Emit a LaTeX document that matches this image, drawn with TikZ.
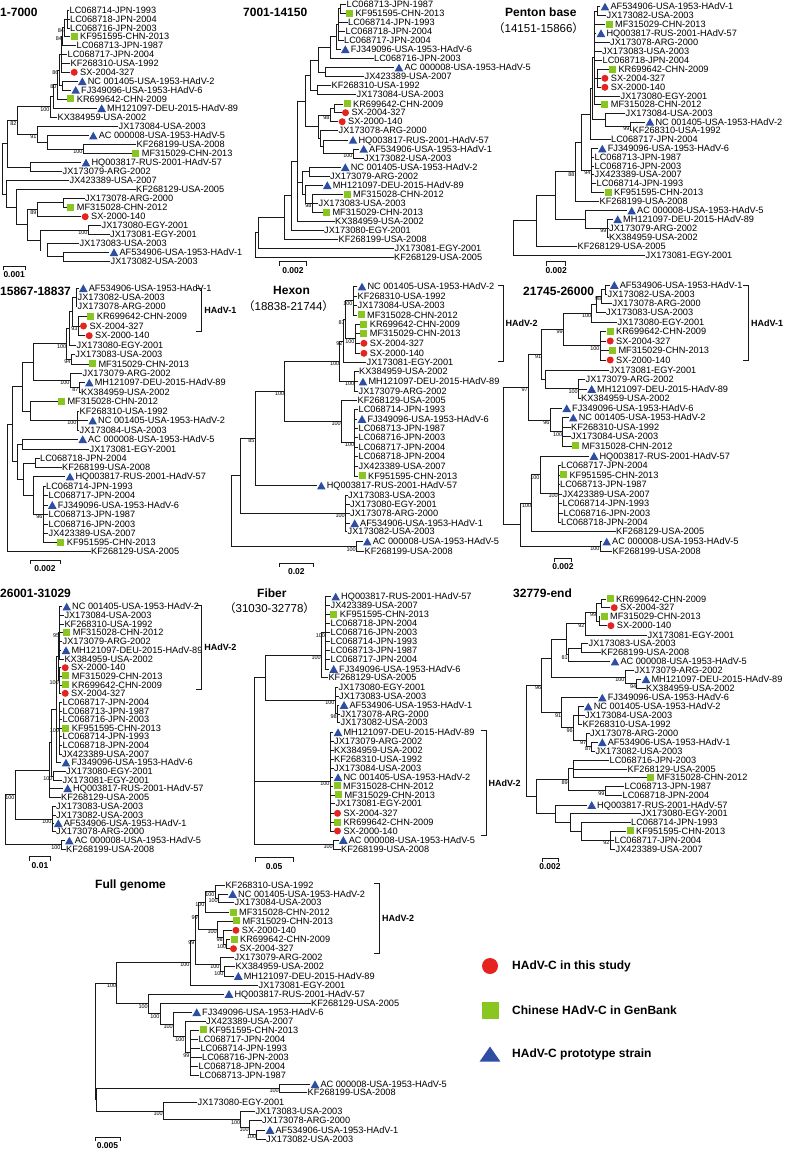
\documentclass[tikz,border=0pt]{standalone}
\usepackage{fontspec}
\setmainfont{Liberation Sans}
\newfontfamily\cjk{Noto Sans CJK SC}
\usetikzlibrary{calc}
\definecolor{hred}{RGB}{228,36,30}
\definecolor{hgreen}{RGB}{138,198,32}
\definecolor{hblue}{RGB}{46,78,164}
\newcommand{\mkc}{\tikz[baseline=0pt]\fill[hred] (3.5pt,3.25pt) circle (3.5pt);\hspace{2.5pt}}
\newcommand{\mks}{\tikz[baseline=0pt]\fill[hgreen] (0pt,-0.2pt) rectangle (7pt,6.8pt);\hspace{2.5pt}}
\newcommand{\mkt}{\tikz[baseline=0pt]\fill[hblue] (0pt,-0.5pt) -- (8.6pt,-0.5pt) -- (4.3pt,7.2pt) -- cycle;\hspace{1.2pt}}
\newcommand{\lf}[4]{\node[leaf] (#1) at (#2,#3) {#4};}
\newcommand{\cl}[5][]{%
  \coordinate (#2x) at (#3,0);
  \coordinate (#2t) at (#4 -| #2x);
  \coordinate (#2b) at (#5 -| #2x);
  \coordinate (#2) at ($(#2t)!.5!(#2b)$);
  \draw[br] (#2t) -- (#2b);
  \draw[br] (#2t) -- (#4);
  \draw[br] (#2b) -- (#5);
  \ifx\relax#1\relax\else\node[bs] (#2l) at (#2) {#1};\fi}
\newcommand{\cm}[2]{\foreach \ch in {#2}{\draw[br] (\ch -| #1x) -- (\ch);}}
\newcommand{\sbar}[5]{%
  \draw[br, line width=0.8pt] (#2,#4+3.5) -- (#2,#4) -- (#3,#4) -- (#3,#4+3.5);
  \node[sbl] (#1) at ({(#2+#3)/2},#4+8.5) {#5};}
\newcommand{\grp}[5]{%
  \draw[br] ({#2-5},#3) -- (#2,#3) -- (#2,#4) -- ({#2-5},#4);
  \node[glbl] (#1) at ({#2+2.5},{(#3+#4)/2}) {#5};}

\begin{document}
\begin{tikzpicture}[x=1pt,y=-1pt,
  br/.style={line width=0.95pt, line cap=rect, draw=black!90},
  leaf/.style={anchor=west, inner sep=0.5pt, text height=6.5pt, text depth=0pt, font=\fontsize{9.2}{9.2}\selectfont},
  bs/.style={anchor=north east, inner sep=0.3pt, font=\fontsize{5.5}{5.5}\selectfont},
  ttl/.style={anchor=west, inner sep=0pt, font=\bfseries\fontsize{12}{12}\selectfont},
  sub/.style={anchor=west, inner sep=0pt, font=\fontsize{11.5}{11.5}\selectfont},
  sbl/.style={inner sep=0pt, font=\bfseries\fontsize{8.5}{8.5}\selectfont},
  glbl/.style={anchor=west, inner sep=0pt, font=\bfseries\fontsize{9}{9}\selectfont},
  lgtxt/.style={anchor=west, inner sep=0pt, font=\bfseries\fontsize{12}{12}\selectfont}]
\useasboundingbox (0,0) rectangle (784,1150);

% titles
\node[ttl] (t1) at (0,12) {1-7000};
\node[ttl] (t2) at (243,12) {7001-14150};
\node[ttl] (t3) at (505,12) {Penton base};
\node[sub] (t3s) at (493,28) {{\cjk （}14151-15866{\cjk ）}};
\node[ttl] (t4) at (0,291.7) {15867-18837};
\node[ttl] (t5) at (273,290.7) {Hexon};
\node[sub] (t5s) at (243,306) {{\cjk （}18838-21744{\cjk ）}};
\node[ttl] (t6) at (523,291.7) {21745-26000};
\node[ttl] (t7) at (0,593.3) {26001-31029};
\node[ttl] (t8) at (257,593.3) {Fiber};
\node[sub] (t8s) at (224,608.3) {{\cjk （}31030-32778{\cjk ）}};
\node[ttl] (t9) at (513,593.3) {32779-end};
\node[ttl] (t10) at (95,885.7) {Full genome};

% 1-7000
\lf{a1}{69}{10}{LC068714-JPN-1993}
\lf{a2}{69.5}{19}{LC068718-JPN-2004}
\lf{a3}{69.5}{28}{LC068716-JPN-2003}
\lf{a4}{70}{36.7}{\mks KF951595-CHN-2013}
\lf{a5}{76}{45.3}{LC068713-JPN-1987}
\lf{a6}{67}{54.3}{LC068717-JPN-2004}
\lf{a7}{70}{63.3}{KF268310-USA-1992}
\lf{a8}{70}{72.3}{\mkc SX-2004-327}
\lf{a9}{77.3}{81.3}{\mkt NC 001405-USA-1953-HAdV-2}
\lf{a10}{70.7}{90}{\mkt FJ349096-USA-1953-HAdV-6}
\lf{a11}{66.7}{99}{\mks KR699642-CHN-2009}
\lf{a12}{96.7}{108.3}{\mkt MH121097-DEU-2015-HAdV-89}
\lf{a13}{57}{117.3}{KX384959-USA-2002}
\lf{a14}{118}{126.7}{JX173084-USA-2003}
\lf{a15}{88.3}{135.7}{\mkt AC 000008-USA-1953-HAdV-5}
\lf{a16}{136}{144.3}{KF268199-USA-2008}
\lf{a17}{131.7}{153.7}{\mks MF315029-CHN-2013}
\lf{a18}{81}{162.7}{\mkt HQ003817-RUS-2001-HAdV-57}
\lf{a19}{62}{171.7}{JX173079-ARG-2002}
\lf{a20}{69}{180.7}{JX423389-USA-2007}
\lf{a21}{135.5}{189.7}{KF268129-USA-2005}
\lf{a22}{84.5}{198.3}{JX173078-ARG-2000}
\lf{a23}{66.7}{207.3}{\mks MF315028-CHN-2012}
\lf{a24}{81}{216.7}{\mkc SX-2000-140}
\lf{a25}{101}{225.7}{JX173080-EGY-2001}
\lf{a26}{109.5}{234.3}{JX173081-EGY-2001}
\lf{a27}{79}{243.3}{JX173083-USA-2003}
\lf{a28}{109}{252.3}{\mkt AF534906-USA-1953-HAdV-1}
\lf{a29}{110}{261.3}{JX173082-USA-2003}
\cl{aA8}{67}{a1}{a3} \cm{aA8}{a2}
\cl[84]{aA7}{64.5}{aA8}{a4}
\cl[84]{aA6}{62.5}{aA7}{a5}
\cl{aA4}{61}{aA6}{a8} \cm{aA4}{a6,a7}
\cl{aA5}{62}{a9}{a10}
\cl[86]{aA3}{59}{aA4}{aA5}
\cl[80]{aA2}{57}{aA3}{a11}
\cl{aA1}{53}{aA2}{a12}
\cl[100]{aA0}{50}{aA1}{a13}
\cl[100]{aB2}{83}{a16}{a17}
\cl{aB1}{47}{a15}{aB2}
\cl[91]{aB0}{37}{a14}{aB1}
\cl[82]{aN}{17}{aA0}{aB0}
\cl{aH}{30}{a18}{a19}
\cl{aU}{7.3}{aN}{aH}
\cl{aL4a}{63}{a22}{a23}
\cl[89]{aL4}{37}{aL4a}{a24}
\cl[100]{aL5a}{88}{a25}{a26}
\cl{aL5c}{63}{a28}{a29}
\cl{aL5b}{47}{a27}{aL5c}
\cl{aL5}{40}{aL5a}{aL5b}
\cl{aL3}{27}{aL4}{aL5}
\cl{aL2}{16}{a21}{aL3}
\cl{aL}{6}{a20}{aL2}
\cl{aR}{2.7}{aU}{aL}
\sbar{sa}{3.3}{25}{266.5}{0.001}

% 7001-14150
\lf{b1}{346}{4}{LC068713-JPN-1987}
\lf{b2}{345.3}{13.3}{\mks KF951595-CHN-2013}
\lf{b3}{347.5}{22.3}{LC068714-JPN-1993}
\lf{b4}{345}{31.3}{LC068718-JPN-2004}
\lf{b5}{343.5}{40.3}{LC068717-JPN-2004}
\lf{b6}{340.3}{49.3}{\mkt FJ349096-USA-1953-HAdV-6}
\lf{b7}{373.5}{58.7}{LC068716-JPN-2003}
\lf{b8}{394}{67.7}{\mkt AC 000008-USA-1953-HAdV-5}
\lf{b9}{364}{76.7}{JX423389-USA-2007}
\lf{b10}{331}{85.7}{KF268310-USA-1992}
\lf{b11}{356}{94.7}{JX173084-USA-2003}
\lf{b12}{343}{104}{\mks KR699642-CHN-2009}
\lf{b13}{341.3}{112.7}{\mkc SX-2004-327}
\lf{b14}{338}{121.7}{\mkc SX-2000-140}
\lf{b15}{338}{130.7}{JX173078-ARG-2000}
\lf{b16}{348}{140}{\mkt HQ003817-RUS-2001-HAdV-57}
\lf{b17}{358.7}{149}{\mkt AF534906-USA-1953-HAdV-1}
\lf{b18}{363.5}{158}{JX173082-USA-2003}
\lf{b19}{340.3}{167.3}{\mkt NC 001405-USA-1953-HAdV-2}
\lf{b20}{329.5}{176}{JX173079-ARG-2002}
\lf{b21}{322.3}{185.3}{\mkt MH121097-DEU-2015-HAdV-89}
\lf{b22}{343}{194.3}{\mks MF315028-CHN-2012}
\lf{b23}{318}{203.3}{JX173083-USA-2003}
\lf{b24}{322.3}{212.3}{\mks MF315029-CHN-2013}
\lf{b25}{334.5}{221}{KX384959-USA-2002}
\lf{b26}{323.5}{230}{JX173080-EGY-2001}
\lf{b27}{338}{239.3}{KF268199-USA-2008}
\lf{b28}{394}{248.3}{JX173081-EGY-2001}
\lf{b29}{393.5}{257.3}{KF268129-USA-2005}
\cl{bR20}{340}{b1}{b2}
\cl{bR19}{338}{bR20}{b5} \cm{bR19}{b3,b4}
\cl{bR18}{336}{bR19}{b6}
\cl{bR16}{330}{bR18}{b7}
\cl{bR17}{325}{b8}{b9}
\cl{bR15}{318}{bR16}{bR17}
\cl{bR13}{317}{b10}{b11}
\cl{bR12}{310}{bR15}{bR13}
\cl{bR23}{334}{b12}{b13}
\cl[98]{bR21}{330}{bR23}{b14}
\cl[100]{bR25}{353}{b17}{b18}
\cl{bR24}{323}{b16}{bR25}
\cl{bR22}{320}{b15}{bR24}
\cl{bR14}{318}{bR21}{bR22}
\cl{bR5}{305}{bR12}{bR14}
\cl{bR8}{309.7}{b19}{b20}
\cl[98]{bR10}{312}{b22}{b24} \cm{bR10}{b23}
\cl{bR9}{305}{b21}{bR10}
\cl{bR7}{302}{bR8}{bR9}
\cl{bR4}{297}{bR5}{b25} \cm{bR4}{bR7}
\cl{bR3}{291.3}{bR4}{b26}
\cl{bR2}{284.7}{bR3}{b27}
\cl{bR1}{258}{bR2}{b28}
\cl{bR0}{255}{bR1}{b29}
\sbar{sb}{279.7}{306.3}{261.7}{0.002}

% Penton base
\lf{c1}{600}{6.7}{\mkt AF534906-USA-1953-HAdV-1}
\lf{c2}{606}{15.7}{JX173082-USA-2003}
\lf{c3}{605}{24.3}{\mks MF315029-CHN-2013}
\lf{c4}{596}{33.3}{\mkt HQ003817-RUS-2001-HAdV-57}
\lf{c5}{609.5}{42.3}{JX173078-ARG-2000}
\lf{c6}{601.5}{51.7}{JX173083-USA-2003}
\lf{c7}{602}{60.3}{LC068718-JPN-2004}
\lf{c8}{608.3}{69.3}{\mks KR699642-CHN-2009}
\lf{c9}{600.7}{78.3}{\mkc SX-2004-327}
\lf{c10}{600.7}{87.3}{\mkc SX-2000-140}
\lf{c11}{620}{96}{JX173080-EGY-2001}
\lf{c12}{600.7}{104.3}{\mks MF315028-CHN-2012}
\lf{c13}{625}{113.3}{JX173084-USA-2003}
\lf{c14}{645}{122}{\mkt NC 001405-USA-1953-HAdV-2}
\lf{c15}{632}{130.7}{KF268310-USA-1992}
\lf{c16}{610.5}{139.3}{LC068717-JPN-2004}
\lf{c17}{597.3}{148.7}{\mkt FJ349096-USA-1953-HAdV-6}
\lf{c18}{594}{157.3}{LC068713-JPN-1987}
\lf{c19}{594}{166}{LC068716-JPN-2003}
\lf{c20}{594}{174.3}{JX423389-USA-2007}
\lf{c21}{596}{183.3}{LC068714-JPN-1993}
\lf{c22}{604}{192.3}{\mks KF951595-CHN-2013}
\lf{c23}{599}{201.3}{KF268199-USA-2008}
\lf{c24}{626.7}{210.7}{\mkt AC 000008-USA-1953-HAdV-5}
\lf{c25}{612.7}{219.3}{\mkt MH121097-DEU-2015-HAdV-89}
\lf{c26}{608.5}{228.3}{JX173079-ARG-2002}
\lf{c27}{608.5}{237}{KX384959-USA-2002}
\lf{c28}{577}{246}{KF268129-USA-2005}
\lf{c29}{645}{255}{JX173081-EGY-2001}
\cl{cS13}{597}{c1}{c2}
\cl{cS14}{597}{c8}{c10} \cm{cS14}{c9}
\cl{cS10}{594}{cS13}{c12} \cm{cS10}{c3,c4,c5,c6,c7,cS14,c11}
\cl[99]{cS12}{630}{c14}{c15}
\cl{cS11}{605}{c13}{cS12}
\cl{cS9}{592.5}{cS10}{cS11}
\cl{cS7}{590}{cS9}{c16}
\cl[94]{cS8}{591}{c17}{c22} \cm{cS8}{c18,c19,c20,c21}
\cl{cS6}{581.7}{cS7}{cS8}
\cl[88]{cS3}{575}{cS6}{c23}
\cl[99]{cS5}{607}{c25}{c27} \cm{cS5}{c26}
\cl{cS4}{585}{c24}{cS5}
\cl{cS2}{555}{cS3}{cS4}
\cl{cS1}{536.7}{cS2}{c28}
\cl{cS0}{513}{cS1}{c29}
\sbar{sc}{546.7}{565.7}{261.7}{0.002}

% 15867-18837
\lf{d1}{78.3}{288.3}{\mkt AF534906-USA-1953-HAdV-1}
\lf{d2}{77}{297.3}{JX173082-USA-2003}
\lf{d3}{77}{306.7}{JX173078-ARG-2000}
\lf{d4}{86.7}{316.7}{\mks KR699642-CHN-2009}
\lf{d5}{79.3}{326}{\mkc SX-2004-327}
\lf{d6}{85}{335.7}{\mkc SX-2000-140}
\lf{d7}{76}{345}{JX173080-EGY-2001}
\lf{d8}{74.7}{354.3}{JX173083-USA-2003}
\lf{d9}{88.3}{364}{\mks MF315029-CHN-2013}
\lf{d10}{82}{373.3}{JX173079-ARG-2002}
\lf{d11}{84.3}{382.7}{\mkt MH121097-DEU-2015-HAdV-89}
\lf{d12}{80.5}{392.3}{KX384959-USA-2002}
\lf{d13}{57.3}{401.7}{\mks MF315028-CHN-2012}
\lf{d14}{79}{411}{KF268310-USA-1992}
\lf{d15}{87.7}{420.7}{\mkt NC 001405-USA-1953-HAdV-2}
\lf{d16}{79}{430}{JX173084-USA-2003}
\lf{d17}{77.7}{439.3}{\mkt AC 000008-USA-1953-HAdV-5}
\lf{d18}{89}{449}{JX173081-EGY-2001}
\lf{d19}{39.5}{458.3}{LC068718-JPN-2004}
\lf{d20}{61.5}{467.7}{KF268199-USA-2008}
\lf{d21}{65}{476.7}{\mkt HQ003817-RUS-2001-HAdV-57}
\lf{d22}{45.5}{486}{LC068714-JPN-1993}
\lf{d23}{48}{495.7}{LC068717-JPN-2004}
\lf{d24}{47.3}{505}{\mkt FJ349096-USA-1953-HAdV-6}
\lf{d25}{48}{514.3}{LC068713-JPN-1987}
\lf{d26}{48}{524}{LC068716-JPN-2003}
\lf{d27}{48}{533.3}{JX423389-USA-2007}
\lf{d28}{56.7}{542.7}{\mks KF951595-CHN-2013}
\lf{d29}{90.5}{551.7}{KF268129-USA-2005}
\cl{dT13}{76}{d1}{d3} \cm{dT13}{d2}
\cl[93]{dT14}{78}{d4}{d6} \cm{dT14}{d5}
\cl{dT12}{72}{dT13}{dT14}
\cl{dT10}{69}{dT12}{d7}
\cl[94]{dT11}{71}{d8}{d9}
\cl[100]{dT8}{66.7}{dT10}{dT11}
\cl[87]{dT16}{79}{d11}{d12}
\cl[100]{dT9}{70}{d10}{dT16}
\cl{dT6}{33}{dT8}{dT9}
\cl[100]{dT17}{77}{d14}{d16} \cm{dT17}{d15}
\cl{dT7}{30}{d13}{dT17}
\cl{dT2}{22}{dT6}{dT7}
\cl{dT3}{22}{d17}{d18}
\cl{dT19}{35}{d19}{d20}
\cl[96]{dT21}{43}{d22}{d28} \cm{dT21}{d23,d24,d25,d26,d27}
\cl{dT20}{33}{d21}{dT21}
\cl{dT18}{23}{dT19}{dT20}
\cl{dT5}{17}{dT3}{dT18}
\cl{dT1}{12}{dT2}{dT5}
\cl{dT0}{7}{dT1}{d29}
\sbar{sd}{30}{60}{560}{0.002}
\grp{gd}{201.7}{288.3}{331.7}{HAdV-1}

% Hexon
\lf{e1}{357}{286.7}{\mkt NC 001405-USA-1953-HAdV-2}
\lf{e2}{357}{296}{KF268310-USA-1992}
\lf{e3}{357}{305.7}{JX173084-USA-2003}
\lf{e4}{357}{315}{\mks MF315028-CHN-2012}
\lf{e5}{359.7}{324.3}{\mks KR699642-CHN-2009}
\lf{e6}{359.7}{333.7}{\mks MF315029-CHN-2013}
\lf{e7}{359.7}{343.3}{\mkc SX-2004-327}
\lf{e8}{359.7}{353.3}{\mkc SX-2000-140}
\lf{e9}{366}{362.7}{JX173081-EGY-2001}
\lf{e10}{358.5}{371.7}{KX384959-USA-2002}
\lf{e11}{358}{381.7}{\mkt MH121097-DEU-2015-HAdV-89}
\lf{e12}{358}{391}{JX173079-ARG-2002}
\lf{e13}{357}{400}{KF268129-USA-2005}
\lf{e14}{358}{409.3}{LC068714-JPN-1993}
\lf{e15}{357}{419}{\mkt FJ349096-USA-1953-HAdV-6}
\lf{e16}{358}{428.3}{LC068713-JPN-1987}
\lf{e17}{358}{437.7}{LC068716-JPN-2003}
\lf{e18}{358}{447.3}{LC068717-JPN-2004}
\lf{e19}{358}{456.7}{LC068718-JPN-2004}
\lf{e20}{358}{466}{JX423389-USA-2007}
\lf{e21}{358}{476}{\mks KF951595-CHN-2013}
\lf{e22}{316.3}{485.7}{\mkt HQ003817-RUS-2001-HAdV-57}
\lf{e23}{347.5}{495}{JX173083-USA-2003}
\lf{e24}{349.5}{504.3}{JX173080-EGY-2001}
\lf{e25}{349.5}{513.3}{JX173078-ARG-2000}
\lf{e26}{349.7}{523.3}{\mkt AF534906-USA-1953-HAdV-1}
\lf{e27}{347}{531.7}{JX173082-USA-2003}
\lf{e28}{362.3}{541.7}{\mkt AC 000008-USA-1953-HAdV-5}
\lf{e29}{364}{551.7}{KF268199-USA-2008}
\cl[100]{eH13}{353}{e1}{e4} \cm{eH13}{e2,e3}
\cl[100]{eH14}{355}{e5}{e8} \cm{eH14}{e6,e7}
\cl[87]{eH12}{345.3}{eH13}{eH14}
\cl[92]{eH10}{343}{eH12}{e9}
\cl[100]{eH11}{354.7}{e10}{e12} \cm{eH11}{e11}
\cl[100]{eH8}{339.7}{eH10}{eH11}
\cl[100]{eH15}{354.7}{e14}{e21} \cm{eH15}{e15,e16,e17,e18,e19,e20}
\cl[100]{eH9}{341.3}{e13}{eH15}
\cl[100]{eH5}{284.7}{eH8}{eH9}
\cl[85]{eH1}{255}{eH5}{e22}
\cl[100]{eH3}{345.3}{e23}{e27} \cm{eH3}{e24,e25,e26}
\cl[100]{eH4}{356.3}{e28}{e29}
\cl{eH7}{240}{eH1}{eH3}
\cl{eH0}{231.7}{eH7}{eH4}
\sbar{se}{279.7}{313}{563.3}{0.02}
\grp{ge}{503}{285}{361.7}{HAdV-2}

% 21745-26000
\lf{f1}{609.3}{285}{\mkt AF534906-USA-1953-HAdV-1}
\lf{f2}{607}{294}{JX173082-USA-2003}
\lf{f3}{612}{303.3}{JX173078-ARG-2000}
\lf{f4}{605.5}{312.7}{JX173083-USA-2003}
\lf{f5}{617}{322.3}{JX173080-EGY-2001}
\lf{f6}{606}{331.7}{\mks KR699642-CHN-2009}
\lf{f7}{606}{341}{\mkc SX-2004-327}
\lf{f8}{608.3}{350.3}{\mks MF315029-CHN-2013}
\lf{f9}{606}{360}{\mkc SX-2000-140}
\lf{f10}{609}{370}{JX173081-EGY-2001}
\lf{f11}{585}{379.3}{JX173079-ARG-2002}
\lf{f12}{586.7}{389}{\mkt MH121097-DEU-2015-HAdV-89}
\lf{f13}{580.5}{398.3}{KX384959-USA-2002}
\lf{f14}{561.7}{408.3}{\mkt FJ349096-USA-1953-HAdV-6}
\lf{f15}{568.3}{417.7}{\mkt NC 001405-USA-1953-HAdV-2}
\lf{f16}{570.5}{427.3}{KF268310-USA-1992}
\lf{f17}{570.5}{436.7}{JX173084-USA-2003}
\lf{f18}{571.7}{446}{\mks MF315028-CHN-2012}
\lf{f19}{589}{456}{\mkt HQ003817-RUS-2001-HAdV-57}
\lf{f20}{560.5}{465}{LC068717-JPN-2004}
\lf{f21}{559.3}{475}{\mks KF951595-CHN-2013}
\lf{f22}{559.5}{484.3}{LC068713-JPN-1987}
\lf{f23}{562}{494}{JX423389-USA-2007}
\lf{f24}{562}{503.3}{LC068714-JPN-1993}
\lf{f25}{563}{513.3}{LC068716-JPN-2003}
\lf{f26}{560.5}{522.3}{LC068718-JPN-2004}
\lf{f27}{615.5}{531.7}{KF268129-USA-2005}
\lf{f28}{601.7}{541.7}{\mkt AC 000008-USA-1953-HAdV-5}
\lf{f29}{612}{551}{KF268199-USA-2008}
\cl{fG11}{605}{f1}{f2}
\cl[98]{fG10}{601.7}{fG11}{f3}
\cl{fG9}{596}{fG10}{f4}
\cl[100]{fG7}{591.7}{fG9}{f5}
\cl[100]{fG8}{600}{f6}{f9} \cm{fG8}{f7,f8}
\cl[99]{fG5}{563.3}{fG7}{fG8}
\cl[100]{fG12}{578.3}{f11}{f13} \cm{fG12}{f12}
\cl{fG6}{545}{f10}{fG12}
\cl[91]{fG3}{541.7}{fG5}{fG6}
\cl[100]{fG13}{562.7}{f15}{f18} \cm{fG13}{f16,f17}
\cl[96]{fG4}{550}{f14}{fG13}
\cl[97]{fG1}{528.3}{fG3}{fG4}
\cl[100]{fG17}{558.3}{f20}{f26} \cm{fG17}{f21,f22,f23,f24,f25}
\cl[100]{fG14}{540}{f19}{fG17}
\cl[100]{fG16}{531.7}{fG14}{f27}
\cl[100]{fG15}{600}{f28}{f29}
\cl{fG2}{520}{fG16}{fG15}
\cl{fG0}{503}{fG1}{fG2}
\sbar{sf}{554.3}{571.7}{558.3}{0.002}
\grp{gf}{748.3}{285}{360.7}{HAdV-1}

% 26001-31029
\lf{g1}{61.7}{606.7}{\mkt NC 001405-USA-1953-HAdV-2}
\lf{g2}{63.8}{615}{JX173084-USA-2003}
\lf{g3}{63.8}{624}{KF268310-USA-1992}
\lf{g4}{62.7}{632.7}{\mks MF315028-CHN-2012}
\lf{g5}{62}{641.7}{JX173079-ARG-2002}
\lf{g6}{61}{650.3}{\mkt MH121097-DEU-2015-HAdV-89}
\lf{g7}{63.8}{659}{KX384959-USA-2002}
\lf{g8}{61}{667.7}{\mkc SX-2000-140}
\lf{g9}{61.7}{676}{\mks MF315029-CHN-2013}
\lf{g10}{61.7}{685}{\mks KR699642-CHN-2009}
\lf{g11}{61}{693.3}{\mkc SX-2004-327}
\lf{g12}{62}{702.3}{LC068717-JPN-2004}
\lf{g13}{62}{711}{LC068713-JPN-1987}
\lf{g14}{62}{719.3}{LC068716-JPN-2003}
\lf{g15}{61.7}{728.3}{\mks KF951595-CHN-2013}
\lf{g16}{62}{736.7}{LC068714-JPN-1993}
\lf{g17}{62}{745}{LC068718-JPN-2004}
\lf{g18}{61.5}{754}{JX423389-USA-2007}
\lf{g19}{61}{762.7}{\mkt FJ349096-USA-1953-HAdV-6}
\lf{g20}{65.5}{771.7}{JX173080-EGY-2001}
\lf{g21}{62}{780.3}{JX173081-EGY-2001}
\lf{g22}{62.7}{788.3}{\mkt HQ003817-RUS-2001-HAdV-57}
\lf{g23}{60.5}{797.7}{KF268129-USA-2005}
\lf{g24}{55.5}{806.7}{JX173083-USA-2003}
\lf{g25}{55.5}{815}{JX173082-USA-2003}
\lf{g26}{53.3}{823.3}{\mkt AF534906-USA-1953-HAdV-1}
\lf{g27}{55.5}{831.7}{JX173078-ARG-2000}
\lf{g28}{64.3}{840.7}{\mkt AC 000008-USA-1953-HAdV-5}
\lf{g29}{65.5}{849}{KF268199-USA-2008}
\cl[95]{gK5a}{59.7}{g1}{g7} \cm{gK5a}{g2,g3,g4,g5,g6}
\cl[100]{gK5b}{59.3}{g8}{g11} \cm{gK5b}{g9,g10}
\cl{gK5}{58}{gK5a}{gK5b}
\cl[100]{gK6}{59.5}{g12}{g18} \cm{gK6}{g13,g14,g15,g16,g17}
\cl{gK4}{56}{gK5}{g19} \cm{gK4}{gK6}
\cl[100]{gK7}{53}{g20}{g21}
\cl{gK3}{51}{gK4}{gK7}
\cl{gK2}{49}{gK3}{g23} \cm{gK2}{g22}
\cl[100]{gK8}{52}{g24}{g27} \cm{gK8}{g25,g26}
\cl[100]{gK1}{15}{gK2}{gK8}
\cl[100]{gK9}{61}{g28}{g29}
\cl{gK0}{5}{gK1}{gK9}
\sbar{sg}{29.3}{50.7}{856.7}{0.01}
\grp{gg}{201.7}{605.7}{689}{HAdV-2}

% Fiber
\lf{h1}{330.7}{596.7}{\mkt HQ003817-RUS-2001-HAdV-57}
\lf{h2}{330}{605.7}{JX423389-USA-2007}
\lf{h3}{329.7}{614.3}{\mks KF951595-CHN-2013}
\lf{h4}{330}{623.7}{LC068718-JPN-2004}
\lf{h5}{330}{632.7}{LC068716-JPN-2003}
\lf{h6}{330}{641.7}{LC068714-JPN-1993}
\lf{h7}{330}{650.7}{LC068713-JPN-1987}
\lf{h8}{330}{659.7}{LC068717-JPN-2004}
\lf{h9}{328.7}{669}{\mkt FJ349096-USA-1953-HAdV-6}
\lf{h10}{327.8}{677.7}{KF268129-USA-2005}
\lf{h11}{338}{687.3}{JX173080-EGY-2001}
\lf{h12}{338.5}{696}{JX173083-USA-2003}
\lf{h13}{339}{705}{\mkt AF534906-USA-1953-HAdV-1}
\lf{h14}{340}{714}{JX173078-ARG-2000}
\lf{h15}{340}{722.7}{JX173082-USA-2003}
\lf{h16}{333}{732.3}{\mkt MH121097-DEU-2015-HAdV-89}
\lf{h17}{333.5}{741}{JX173079-ARG-2002}
\lf{h18}{333.5}{750}{KX384959-USA-2002}
\lf{h19}{333.5}{759}{KF268310-USA-1992}
\lf{h20}{333.5}{768.3}{JX173084-USA-2003}
\lf{h21}{333}{777.3}{\mkt NC 001405-USA-1953-HAdV-2}
\lf{h22}{333}{786}{\mks MF315028-CHN-2012}
\lf{h23}{334.3}{795}{\mks MF315029-CHN-2013}
\lf{h24}{334.8}{803.3}{JX173081-EGY-2001}
\lf{h25}{333.3}{813.3}{\mkc SX-2004-327}
\lf{h26}{333.3}{822.3}{\mks KR699642-CHN-2009}
\lf{h27}{333.3}{831}{\mkc SX-2000-140}
\lf{h28}{338.3}{840}{\mkt AC 000008-USA-1953-HAdV-5}
\lf{h29}{340.5}{849}{KF268199-USA-2008}
\cl[100]{hF6}{325.5}{h1}{h9} \cm{hF6}{h2,h3,h4,h5,h6,h7,h8}
\cl[100]{hF4}{321.3}{hF6}{h10}
\cl[98]{hF7}{337.3}{h13}{h15} \cm{hF7}{h14}
\cl[100]{hF5}{335}{h11}{hF7} \cm{hF5}{h12}
\cl{hF1}{265.3}{hF4}{hF5}
\cl[100]{hF2}{330}{h16}{h27} \cm{hF2}{h17,h18,h19,h20,h21,h22,h23,h24,h25,h26}
\cl[100]{hF3}{333.3}{h28}{h29}
\cl{hF0}{254}{hF1}{hF3} \cm{hF0}{hF2}
\sbar{sh}{255}{293.3}{857.7}{0.05}
\grp{gh}{486}{730}{835.7}{HAdV-2}

% 32779-end
\lf{i1}{606}{599}{\mks KR699642-CHN-2009}
\lf{i2}{610}{607.7}{\mkc SX-2004-327}
\lf{i3}{600}{616.7}{\mks MF315029-CHN-2013}
\lf{i4}{606.7}{625.7}{\mkc SX-2000-140}
\lf{i5}{647}{635}{JX173081-EGY-2001}
\lf{i6}{588}{643.3}{JX173083-USA-2003}
\lf{i7}{600.5}{652.7}{KF268199-USA-2008}
\lf{i8}{610}{661.7}{\mkt AC 000008-USA-1953-HAdV-5}
\lf{i9}{634}{670.7}{JX173079-ARG-2002}
\lf{i10}{641}{679.3}{\mkt MH121097-DEU-2015-HAdV-89}
\lf{i11}{645.5}{688.3}{KX384959-USA-2002}
\lf{i12}{597.3}{697.7}{\mkt FJ349096-USA-1953-HAdV-6}
\lf{i13}{583.3}{706.7}{\mkt NC 001405-USA-1953-HAdV-2}
\lf{i14}{584.5}{715.7}{JX173084-USA-2003}
\lf{i15}{582}{724.3}{KF268310-USA-1992}
\lf{i16}{589.5}{733.3}{JX173078-ARG-2000}
\lf{i17}{597.3}{742.3}{\mkt AF534906-USA-1953-HAdV-1}
\lf{i18}{594.8}{751}{JX173082-USA-2003}
\lf{i19}{609}{760}{LC068716-JPN-2003}
\lf{i20}{627}{769}{KF268129-USA-2005}
\lf{i21}{646.7}{777.7}{\mks MF315028-CHN-2012}
\lf{i22}{624}{786.7}{LC068713-JPN-1987}
\lf{i23}{622}{795}{LC068718-JPN-2004}
\lf{i24}{586.7}{805}{\mkt HQ003817-RUS-2001-HAdV-57}
\lf{i25}{640.5}{813.3}{JX173080-EGY-2001}
\lf{i26}{630.5}{822.3}{LC068714-JPN-1993}
\lf{i27}{626}{831}{\mks KF951595-CHN-2013}
\lf{i28}{614}{840}{LC068717-JPN-2004}
\lf{i29}{615}{849}{JX423389-USA-2007}
\cl{iJ10}{601.7}{i1}{i2}
\cl{iJ11}{599}{i3}{i4}
\cl[99]{iJ9}{596.7}{iJ10}{iJ11}
\cl[92]{iJ7}{585}{iJ9}{i5}
\cl{iJ12}{581.7}{i6}{i7}
\cl[81]{iJ8}{568.3}{iJ12}{i8}
\cl{iJ5}{566.7}{iJ7}{iJ8}
\cl[94]{iJ13}{636.7}{i10}{i11}
\cl[100]{iJ6}{625}{i9}{iJ13}
\cl{iJ3}{551.7}{iJ5}{iJ6}
\cl{iJ15}{578.3}{i13}{i15} \cm{iJ15}{i14}
\cl[87]{iJ17}{591.7}{i17}{i18}
\cl[97]{iJ16}{586.7}{i16}{iJ17}
\cl[96]{iJ14}{573.3}{iJ15}{iJ16}
\cl[91]{iJ4}{561.7}{i12}{iJ14}
\cl[96]{iJ1}{541.7}{iJ3}{iJ4}
\cl{iJ20}{573}{i19}{i21} \cm{iJ20}{i20}
\cl[99]{iJ21}{605}{i22}{i23}
\cl[89]{iJ18}{568.3}{iJ20}{iJ21}
\cl[92]{iJ25}{610}{i27}{i29} \cm{iJ25}{i28}
\cl{iJ24}{581.7}{i26}{iJ25}
\cl{iJ23}{570}{i25}{iJ24}
\cl{iJ19}{555}{i24}{iJ23}
\cl{iJ2}{536.7}{iJ18}{iJ19}
\cl{iJ0}{526.7}{iJ1}{iJ2}
\sbar{si}{542}{558}{858}{0.002}

% Full genome
\lf{k1}{224.8}{885}{KF268310-USA-1992}
\lf{k2}{227.7}{894}{\mkt NC 001405-USA-1953-HAdV-2}
\lf{k3}{233.8}{902.7}{JX173084-USA-2003}
\lf{k4}{229}{912.3}{\mks MF315028-CHN-2012}
\lf{k5}{232.3}{921}{\mks MF315029-CHN-2013}
\lf{k6}{231.7}{930.3}{\mkc SX-2000-140}
\lf{k7}{230}{939.3}{\mks KR699642-CHN-2009}
\lf{k8}{229.3}{948.7}{\mkc SX-2004-327}
\lf{k9}{233.8}{957.7}{JX173079-ARG-2002}
\lf{k10}{234.8}{966.7}{KX384959-USA-2002}
\lf{k11}{233.3}{976}{\mkt MH121097-DEU-2015-HAdV-89}
\lf{k12}{258}{985}{JX173081-EGY-2001}
\lf{k13}{224}{994}{\mkt HQ003817-RUS-2001-HAdV-57}
\lf{k14}{310.5}{1003}{KF268129-USA-2005}
\lf{k15}{191.7}{1012.3}{\mkt FJ349096-USA-1953-HAdV-6}
\lf{k16}{205.5}{1021}{JX423389-USA-2007}
\lf{k17}{199}{1030}{\mks KF951595-CHN-2013}
\lf{k18}{198}{1039}{LC068717-JPN-2004}
\lf{k19}{199.8}{1048.3}{LC068714-JPN-1993}
\lf{k20}{201.5}{1057.3}{LC068716-JPN-2003}
\lf{k21}{198}{1066.3}{LC068718-JPN-2004}
\lf{k22}{198.8}{1075.3}{LC068713-JPN-1987}
\lf{k23}{310}{1084.3}{\mkt AC 000008-USA-1953-HAdV-5}
\lf{k24}{307}{1092.7}{KF268199-USA-2008}
\lf{k25}{197}{1102.3}{JX173080-EGY-2001}
\lf{k26}{254.8}{1111.7}{JX173083-USA-2003}
\lf{k27}{261.5}{1120.7}{JX173078-ARG-2000}
\lf{k28}{265}{1130}{\mkt AF534906-USA-1953-HAdV-1}
\lf{k29}{265.5}{1139}{JX173082-USA-2003}
\cl[100]{kM13}{218.3}{k2}{k3}
\cl[100]{kM12}{215}{k1}{kM13}
\cl[100]{kM10}{205}{kM12}{k4}
\cl[100]{kM15}{226.7}{k7}{k8}
\cl[98]{kM14}{223.3}{k6}{kM15}
\cl[100]{kM11}{217.3}{k5}{kM14}
\cl[99]{kM8}{198.3}{kM10}{kM11}
\cl[100]{kM16}{224}{k10}{k11}
\cl[100]{kM9}{220}{k9}{kM16}
\cl[99]{kM7}{195}{kM8}{kM9}
\cl[100]{kM5}{190}{kM7}{k12}
\cl[99]{kM21}{190}{k17}{k22} \cm{kM21}{k18,k19,k20,k21}
\cl[100]{kM20}{185}{k16}{kM21}
\cl[100]{kM19}{173.3}{k15}{kM20}
\cl[100]{kM18}{160}{k14}{kM19}
\cl[100]{kM6}{148.3}{k13}{kM18}
\cl[100]{kM1}{116.7}{kM5}{kM6}
\cl[100]{kM2}{279.3}{k23}{k24}
\cl[100]{kM24}{256.7}{k28}{k29}
\cl[100]{kM23}{249.3}{k27}{kM24}
\cl[100]{kM22}{240.7}{k26}{kM23}
\cl[100]{kM3}{163.3}{k25}{kM22}
\cl{kM4}{96.3}{kM2}{kM3}
\cl{kM0}{95}{kM1}{kM4}
\sbar{sk}{95}{120}{1137.3}{0.005}
\grp{gk}{379.3}{883.3}{953.3}{HAdV-2}

% legend
\node[circle, fill=hred, minimum size=16pt, inner sep=0pt] (lgc) at (490,966) {};
\node[lgtxt] (lgct) at (512,966) {HAdV-C in this study};
\node[fill=hgreen, minimum size=17pt, inner sep=0pt] (lgs) at (490,1010) {};
\node[lgtxt] (lgst) at (512,1010) {Chinese HAdV-C in GenBank};
\fill[hblue] (479.7,1061.5) -- (500.3,1061.5) -- (490,1046.5) -- cycle;
\node[lgtxt] (lgtt) at (512,1054) {HAdV-C prototype strain};
\end{tikzpicture}
\end{document}
